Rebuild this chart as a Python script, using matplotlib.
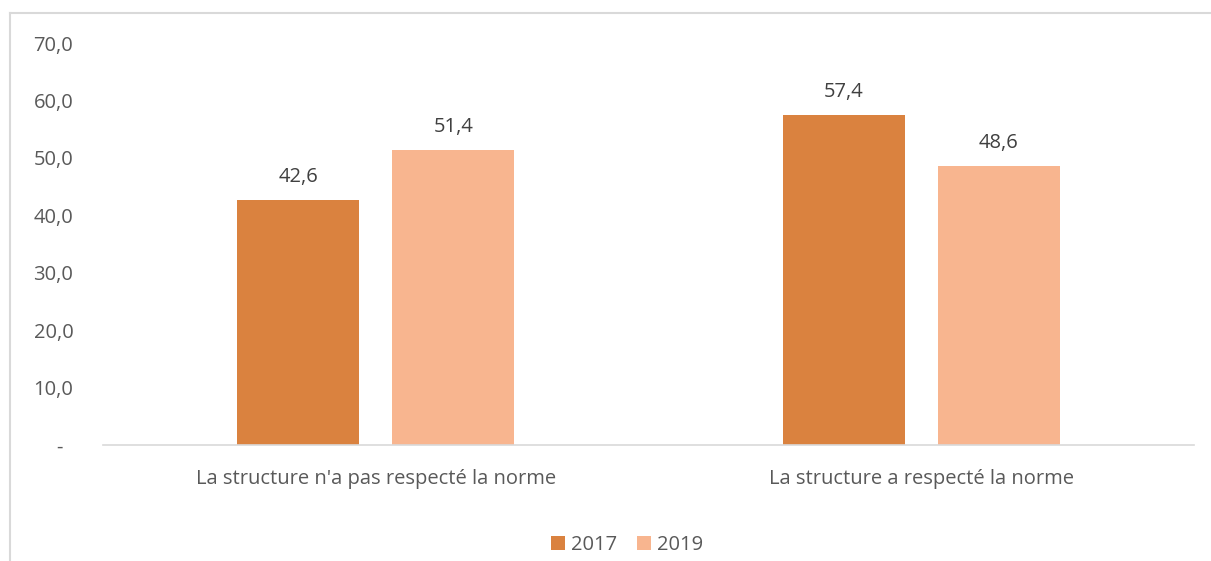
import matplotlib
matplotlib.use('Agg')
from matplotlib import pyplot as plt
from matplotlib.lines import Line2D
from matplotlib.transforms import ScaledTranslation
import numpy as np

plt.rcParams['font.family'] = ['Open Sans', 'DejaVu Sans']

categories = ["La structure n'a pas respecté la norme", "La structure a respecté la norme"]
years = ['2017', '2019']
values_2017 = [42.6, 57.4]
values_2019 = [51.4, 48.6]
yticks = [0, 10, 20, 30, 40, 50, 60, 70]

colors = ['#DA823F', '#F8B58F']
text_color = '#595959'
fs = 14.5

fig = plt.figure(figsize=(12.11, 5.61), dpi=100)
ax = fig.add_axes([103 / 1211, 1 - 445 / 561, 1091 / 1211, 402 / 561])

x = np.arange(len(categories))
width = 0.224
offset = 0.142
for vals, off, col, lab in [(values_2017, -offset, colors[0], years[0]),
                            (values_2019, offset, colors[1], years[1])]:
    bars = ax.bar(x + off, vals, width, color=col, label=lab)
    for b, v in zip(bars, vals):
        ax.text(b.get_x() + b.get_width() / 2, v + 4.0, f'{v:.1f}'.replace('.', ','),
                ha='center', va='center', fontsize=fs, color='#404040')

ax.set_xlim(-0.5, 1.5)
ax.set_ylim(0, 70)
ax.set_yticks(yticks)
ax.set_yticklabels(['-' if t == 0 else f'{t:.1f}'.replace('.', ',') for t in yticks])
ax.set_xticks(x)
ax.set_xticklabels(categories)
ax.tick_params(axis='both', length=0, colors=text_color, labelsize=fs)
ax.tick_params(axis='y', pad=50)
ax.tick_params(axis='x', pad=17)
for lbl in ax.get_yticklabels():
    lbl.set_horizontalalignment('left')
ylabels = ax.get_yticklabels()
ylabels[0].set_transform(ylabels[0].get_transform() + ScaledTranslation(23 / 100, 0, fig.dpi_scale_trans))
for s in ['top', 'right', 'left']:
    ax.spines[s].set_visible(False)
ax.spines['bottom'].set_color('#D9D9D9')
ax.spines['bottom'].set_linewidth(1.2)

# chart frame (left and top edges)
fig.add_artist(Line2D([10 / 1211, 10 / 1211], [0, 1 - 13 / 561], color='#D9D9D9', lw=1.5))
fig.add_artist(Line2D([10 / 1211, 1], [1 - 13 / 561, 1 - 13 / 561], color='#D9D9D9', lw=1.5))

fig.legend(loc='center', bbox_to_anchor=(627 / 1211, 1 - 545 / 561), ncol=2, frameon=False,
           fontsize=fs, handlelength=0.7, handleheight=0.7, handletextpad=0.3,
           columnspacing=1.0, labelcolor=text_color)

fig.savefig('out.png', dpi=100)
